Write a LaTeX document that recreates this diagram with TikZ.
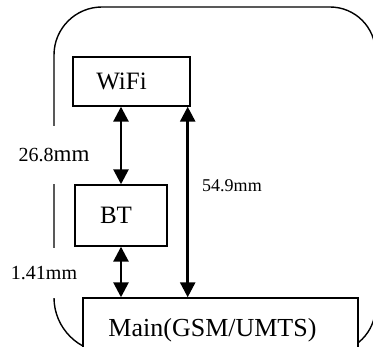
\documentclass[tikz,border=0pt]{standalone}
\usepackage{fontspec}
\setmainfont{Liberation Serif}
\usetikzlibrary{arrows.meta}

\begin{document}
\begin{tikzpicture}
        [x=1pt,y=1pt,
         box/.style={rectangle,draw=black,line width=1.4pt,fill=white,inner sep=0pt},
         dbl/.style={{Triangle[length=15pt,width=15pt]}-{Triangle[length=15pt,width=15pt]},line width=2.7pt},
         lbl/.style={fill=white,inner sep=0pt,font=\fontsize{20}{24}\selectfont}]
        \clip (0,0) rectangle (373,347);
        % phone case
        \draw[line width=1.4pt] (54,150) -- (54,292) arc (180:90:48) -- (330,340)
              arc (90:0:45.5) -- (375.5,40) arc (0:-90:45.5) -- (109,-5.6)
              arc (270:180:55) -- cycle;
        % distances
        \node (len1) at (54,192) [lbl,minimum height=58] {26.8{\fontsize{23}{26}\selectfont mm}};
        \node (len2) at (44,74) [lbl,minimum height=50] {1.41mm};
        \node (len3) at (232,161) [font=\fontsize{18}{22}\selectfont] {54.9mm};
        % antennas
        \node (wifi) at (131.5,265.5) [box,minimum width=117,minimum height=49,font=\fontsize{25}{30}\selectfont] {WiFi\kern20pt};
        \node (bt) at (121,131.5) [box,minimum width=92,minimum height=61,font=\fontsize{25}{30}\selectfont] {BT\kern10pt};
        \node (main) at (220.5,16.5) [box,minimum width=275,minimum height=65,font=\fontsize{26}{31}\selectfont] {Main(GSM/UMTS)\kern16pt};
        \draw[dbl] (bt.north) -- (bt.north |- wifi.south);
        \draw[dbl] (bt.south) -- (bt.south |- main.north);
        \draw[dbl] ([xshift=-3pt]wifi.south east) -- ([xshift=-3pt]wifi.south east |- main.north);
\end{tikzpicture}
\end{document}
